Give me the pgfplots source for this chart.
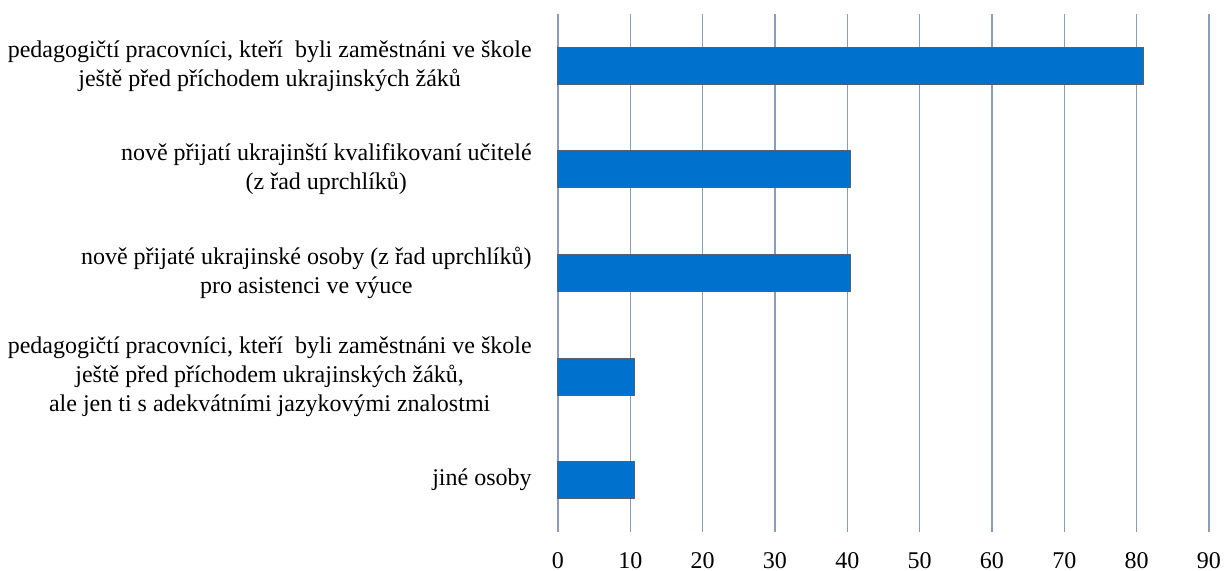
\documentclass[border=0pt]{standalone}
\usepackage{fontspec}
\setmainfont{Liberation Serif}
\usepackage{pgfplots}
\pgfplotsset{compat=1.18}
\definecolor{barblue}{RGB}{0,113,204}
\definecolor{bardraw}{RGB}{85,95,115}
\definecolor{gridc}{RGB}{140,155,185}
\begin{document}
\begin{tikzpicture}
\begin{axis}[
  at={(0,0)}, anchor=south west,
  scale only axis,
  width=325.5bp, height=259bp,
  xmin=0, xmax=90,
  ymin=-0.5, ymax=4.5,
  y dir=reverse,
  xtick={0,10,...,90},
  ytick={0,1,2,3,4},
  yticklabels={
    {pedagogičtí pracovníci, kteří\ \ byli zaměstnáni ve škole\\ještě před příchodem ukrajinských žáků},
    {nově přijatí ukrajinští kvalifikovaní učitelé\\(z řad uprchlíků)},
    {nově přijaté ukrajinské osoby (z řad uprchlíků)\\pro asistenci ve výuce},
    {pedagogičtí pracovníci, kteří\ \ byli zaměstnáni ve škole\\ještě před příchodem ukrajinských žáků,\\ale jen ti s adekvátními jazykovými znalostmi},
    {jiné osoby}
  },
  yticklabel style={align=center, inner sep=0pt, anchor=east, xshift=-13bp,
    font=\normalfont\fontsize{12bp}{14.5bp}\selectfont},
  xticklabel style={inner sep=0pt, anchor=north, yshift=-10bp,
    font=\normalfont\fontsize{12bp}{14.5bp}\selectfont},
  /pgf/number format/assume math mode=true,
  major tick length=0pt,
  axis line style={draw=none},
  xmajorgrids,
  grid style={gridc, line width=0.7bp},
  xbar,
  bar width=0.357,
  clip=false,
]
\addplot[fill=barblue, draw=bardraw, line width=0.5bp] coordinates {
  (80.9,0) (40.5,1) (40.5,2) (10.6,3) (10.6,4)
};
\end{axis}
\pgfresetboundingbox
\useasboundingbox (-279bp,-19.5bp) rectangle (333bp,266bp);
\end{tikzpicture}
\end{document}
